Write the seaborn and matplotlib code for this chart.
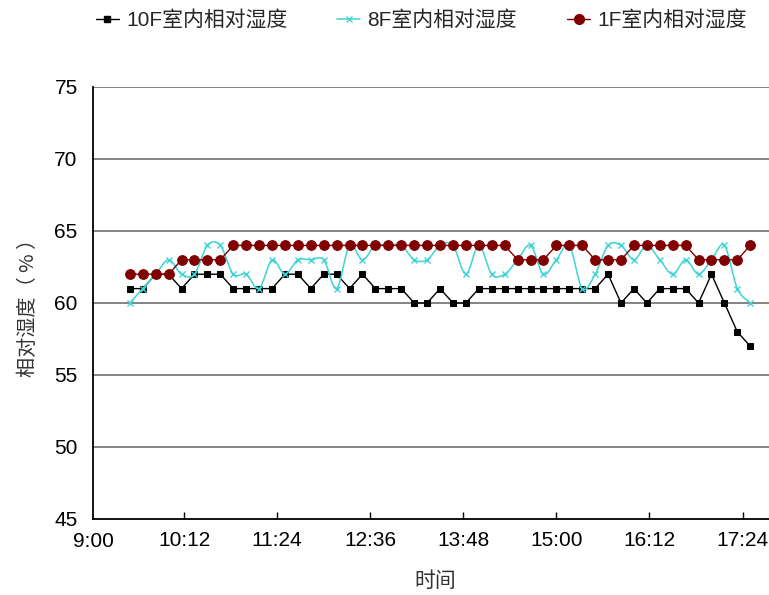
import numpy as np
import pandas as pd
import matplotlib
matplotlib.use("Agg")
import matplotlib.pyplot as plt
import seaborn as sns
from matplotlib.path import Path
from matplotlib.patches import PathPatch
from matplotlib.lines import Line2D

# Sampling times (every 10 minutes)
times = [
    "9:30", "9:40", "9:50", "10:00", "10:10", "10:20", "10:30", "10:40", "10:50",
    "11:00", "11:10", "11:20", "11:30", "11:40", "11:50", "12:00", "12:10", "12:20",
    "12:30", "12:40", "12:50", "13:00", "13:10", "13:20", "13:30", "13:40", "13:50",
    "14:00", "14:10", "14:20", "14:30", "14:40", "14:50", "15:00", "15:10", "15:20",
    "15:30", "15:40", "15:50", "16:00", "16:10", "16:20", "16:30", "16:40", "16:50",
    "17:00", "17:10", "17:20", "17:30",
]

rh_10f = [61, 61, 62, 62, 61, 62, 62, 62, 61, 61, 61, 61, 62, 62, 61, 62, 62,
          61, 62, 61, 61, 61, 60, 60, 61, 60, 60, 61, 61, 61, 61, 61, 61, 61,
          61, 61, 61, 62, 60, 61, 60, 61, 61, 61, 60, 62, 60, 58, 57]
rh_8f = [60, 61, 62, 63, 62, 62, 64, 64, 62, 62, 61, 63, 62, 63, 63, 63, 61,
         64, 63, 64, 64, 64, 63, 63, 64, 64, 62, 64, 62, 62, 63, 64, 62, 63,
         64, 61, 62, 64, 64, 63, 64, 63, 62, 63, 62, 63, 64, 61, 60]
rh_1f = [62, 62, 62, 62, 63, 63, 63, 63, 64, 64, 64, 64, 64, 64, 64, 64, 64,
         64, 64, 64, 64, 64, 64, 64, 64, 64, 64, 64, 64, 64, 63, 63, 63, 64,
         64, 64, 63, 63, 63, 64, 64, 64, 64, 64, 63, 63, 63, 63, 64]

series_names = ["10F室内相对湿度", "8F室内相对湿度", "1F室内相对湿度"]
x_tick_labels = ["9:00", "10:12", "11:24", "12:36", "13:48", "15:00", "16:12", "17:24"]
y_ticks = [45, 50, 55, 60, 65, 70, 75]


def to_minutes(s):
    h, m = s.split(":")
    return int(h) * 60 + int(m)


df = pd.DataFrame({
    "t": [to_minutes(s) for s in times],
    "f10": rh_10f,
    "f8": rh_8f,
    "f1": rh_1f,
})

sns.set_theme(style="white")
plt.rcParams["font.family"] = ["Liberation Sans", "Noto Sans CJK SC", "DejaVu Sans"]

BLACK = "#000000"
CYAN = "#3fd3d6"
DARKRED = "#800000"

fig = plt.figure(figsize=(7.69, 5.95), dpi=100)
ax = fig.add_axes([93 / 769, 1 - 519 / 595, (769 - 93) / 769, (519 - 87) / 595])


def smooth_path(x, y):
    """Cubic Bezier path through the points (Catmull-Rom style smoothing)."""
    pts = np.column_stack([x, y]).astype(float)
    n = len(pts)
    verts = [pts[0]]
    codes = [Path.MOVETO]
    for i in range(n - 1):
        p0 = pts[i - 1] if i > 0 else pts[i]
        p1, p2 = pts[i], pts[i + 1]
        p3 = pts[i + 2] if i + 2 < n else pts[i + 1]
        verts += [p1 + (p2 - p0) / 6, p2 - (p3 - p1) / 6, p2]
        codes += [Path.CURVE4] * 3
    return Path(verts, codes)


# 10F: black line with small squares
sns.lineplot(data=df, x="t", y="f10", ax=ax, color=BLACK, lw=1.0,
             marker="s", markersize=4.2, markeredgecolor=BLACK,
             markerfacecolor=BLACK, zorder=3)

# 8F: smoothed cyan line with x markers
ax.add_patch(PathPatch(smooth_path(df["t"], df["f8"]), facecolor="none",
                       edgecolor=CYAN, lw=1.1, zorder=4))
sns.lineplot(data=df, x="t", y="f8", ax=ax, color=CYAN, lw=0,
             marker="x", markersize=5, markeredgewidth=1.0,
             markeredgecolor=CYAN, zorder=4)

# 1F: dark red line with round markers
sns.lineplot(data=df, x="t", y="f1", ax=ax, color=DARKRED, lw=1.0,
             marker="o", markersize=7, markeredgecolor=DARKRED,
             markerfacecolor=DARKRED, zorder=5)

# axes
x_tick_pos = [to_minutes(s) for s in x_tick_labels]
ax.set_xlim(x_tick_pos[0] + 1.5, x_tick_pos[0] + 1.5 + 523)
ax.set_ylim(y_ticks[0], y_ticks[-1])
ax.set_xticks(x_tick_pos[1:])
ax.set_xticklabels(x_tick_labels[1:])
ax.set_yticks(y_ticks)
ax.set_yticklabels([str(v) for v in y_ticks])
# first tick label sits on the vertical axis
ax.text(0.0, -0.029, x_tick_labels[0], transform=ax.transAxes, ha="center",
        va="top", fontsize=15, color="#000000")

for v in y_ticks[1:]:
    ax.axhline(v, color="#7a7a7a", lw=1.3, zorder=1)

for side in ["top", "right"]:
    ax.spines[side].set_visible(False)
for side in ["left", "bottom"]:
    ax.spines[side].set_color("#000000")
    ax.spines[side].set_linewidth(1.3)

ax.tick_params(axis="x", direction="in", length=5, width=1, color="#000000",
               pad=9, labelsize=15, labelcolor="#000000", bottom=True)
ax.tick_params(axis="y", length=0, pad=11, labelsize=15, labelcolor="#000000")

ax.set_xlabel("时间", fontsize=15, color="#333333",
              fontfamily=["Noto Sans CJK SC", "DejaVu Sans"])
ax.xaxis.set_label_coords(0.507, -0.118)
ax.set_ylabel("相对湿度（ % ）", fontsize=14.5, color="#333333",
              fontfamily=["Noto Sans CJK SC", "DejaVu Sans"])
ax.yaxis.set_label_coords(-0.08, 0.5)

handles = [
    Line2D([], [], color=BLACK, lw=1.0, marker="s", markersize=4.2),
    Line2D([], [], color=CYAN, lw=1.1, marker="x", markersize=5),
    Line2D([], [], color=DARKRED, lw=1.0, marker="o", markersize=7),
]
fig.legend(handles, series_names, loc="center", bbox_to_anchor=(0.548, 0.966),
           ncol=3, frameon=False, fontsize=15, handlelength=1.1,
           handletextpad=0.35, columnspacing=2.4)

fig.savefig("out.png", dpi=100, facecolor="white")
